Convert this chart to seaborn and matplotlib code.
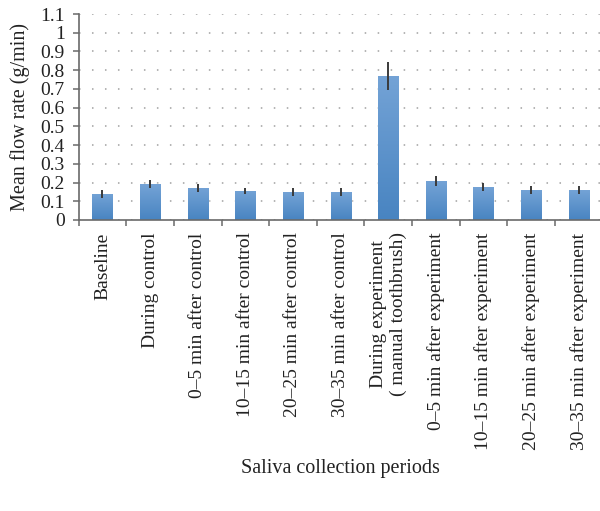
import numpy as np
import pandas as pd
import matplotlib
matplotlib.use("Agg")
import matplotlib.pyplot as plt
from matplotlib.colors import LinearSegmentedColormap
from matplotlib.ticker import FixedLocator, FuncFormatter
import seaborn as sns

periods = [
    "Baseline",
    "During control",
    "0\u20135 min after control",
    "10\u201315 min after control",
    "20\u201325 min after control",
    "30\u201335 min after control",
    "During experiment\n( manual toothbrush)",
    "0\u20135 min after experiment",
    "10\u201315 min after experiment",
    "20\u201325 min after experiment",
    "30\u201335 min after experiment",
]
mean_flow = [0.139, 0.192, 0.171, 0.155, 0.149, 0.149, 0.769, 0.208, 0.176, 0.160, 0.160]
err_flow = [0.021, 0.021, 0.020, 0.018, 0.020, 0.020, 0.077, 0.026, 0.022, 0.020, 0.020]
yticks = [0, 0.1, 0.2, 0.3, 0.4, 0.5, 0.6, 0.7, 0.8, 0.9, 1.0, 1.1]

df = pd.DataFrame({"period": periods, "flow": mean_flow, "err": err_flow})

sns.set_theme(style="white")
plt.rcParams["font.family"] = ["Liberation Serif", "DejaVu Serif"]

fig = plt.figure(figsize=(6.0, 5.11), dpi=100)
ax = fig.add_axes([0.131, 0.5695, 0.8733, 0.4031])

sns.barplot(data=df, x="period", y="flow", color="#5b92cc", width=0.42,
            errorbar=None, ax=ax, zorder=2)

cmap = LinearSegmentedColormap.from_list("barg", ["#4884c1", "#74a3d6"])
grad = np.linspace(0, 1, 256).reshape(-1, 1)
xs = []
for p in ax.patches:
    x0, w, h = p.get_x(), p.get_width(), p.get_height()
    xs.append(x0 + w / 2)
    im = ax.imshow(grad, cmap=cmap, origin="lower", aspect="auto",
                   extent=[x0, x0 + w, 0, h], zorder=2.1, interpolation="bilinear")
    im.set_clip_path(p)

ax.errorbar(xs, df["flow"], yerr=df["err"], fmt="none", ecolor="#3a3a3a",
            elinewidth=1.4, capsize=0, zorder=3)

ax.set_xlim(-0.5, len(periods) - 0.5)
ax.set_ylim(0, 1.1)
ax.yaxis.set_major_locator(FixedLocator(yticks))
ax.yaxis.set_major_formatter(FuncFormatter(lambda v, pos: f"{v:g}"))

ax.yaxis.grid(True, color="#a0a0a0", linewidth=1.1, linestyle=(0, (1, 7.5)), zorder=0)
ax.xaxis.grid(False)
ax.set_axisbelow(True)

for s in ["top", "right"]:
    ax.spines[s].set_visible(False)
for s in ["left", "bottom"]:
    ax.spines[s].set_color("#6a6a6a")
    ax.spines[s].set_linewidth(1.2)
    ax.spines[s].set_zorder(4)

ax.xaxis.set_minor_locator(FixedLocator(np.arange(-0.5, len(periods), 1.0)))
ax.tick_params(axis="x", which="major", length=0, pad=9, labelsize=14,
               labelcolor="#222222", rotation=90)
ax.tick_params(axis="x", which="minor", length=4, width=1.1, color="#6a6a6a",
               direction="out", bottom=True)
ax.tick_params(axis="y", which="major", length=4, width=1.1, color="#6a6a6a",
               direction="out", left=True, pad=6, labelsize=14, labelcolor="#222222")

ax.set_xlabel("Saliva collection periods", fontsize=14.5, color="#222222")
ax.set_ylabel("Mean flow rate (g/min)", fontsize=14.5, color="#222222")
ax.xaxis.set_label_coords(0.5, -1.16)
ax.yaxis.set_label_coords(-0.092, 0.5)

fig.savefig("out.png", dpi=100)
